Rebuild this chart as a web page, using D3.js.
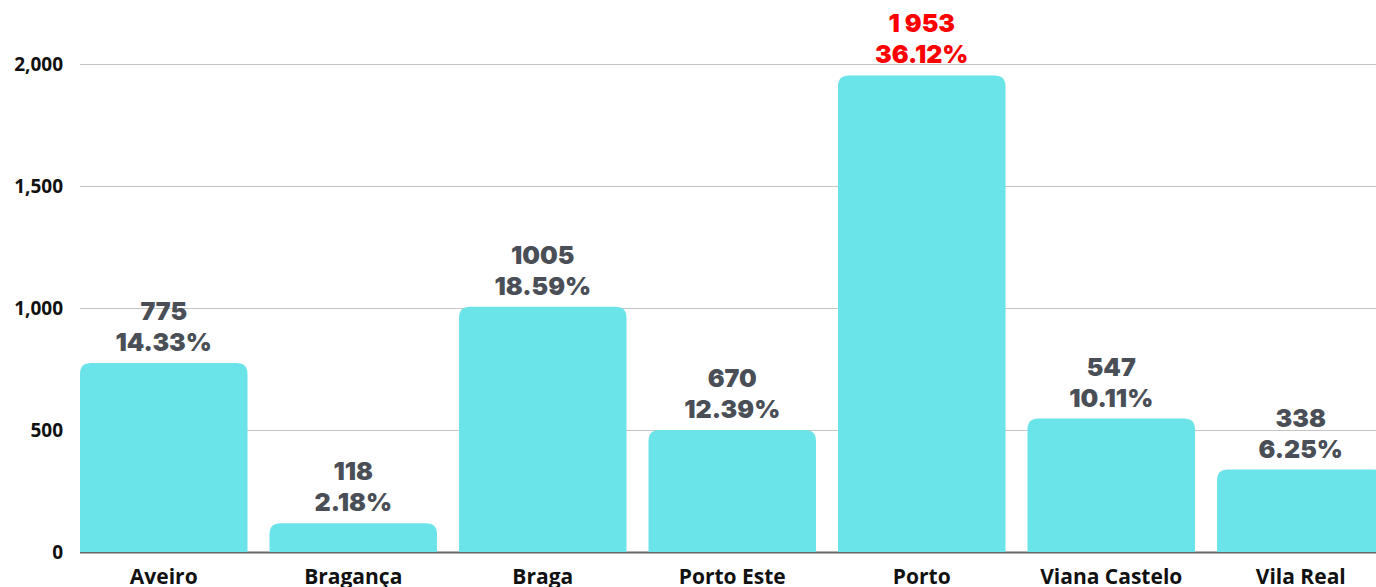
<!DOCTYPE html>
<html>
<head>
<meta charset="utf-8">
<script src="https://cdn.jsdelivr.net/npm/d3@7"></script>
<style>
  body { margin: 0; background: #fff; }
  .grid .domain { display: none; }
  .ytick text { font-family: "Open Sans", sans-serif; font-weight: 700; font-size: 19px; fill: #111; }
  .xlab { font-family: "Open Sans", sans-serif; font-weight: 700; font-size: 21px; fill: #111; }
  .val { font-family: Inter, sans-serif; font-weight: 900; font-size: 25px; fill: #4a4f57; }
</style>
</head>
<body>
<svg id="chart"></svg>
<script>
// Distritos - bar chart

var categories = ["Aveiro", "Bragança", "Braga", "Porto Este", "Porto", "Viana Castelo", "Vila Real"];
var barValues = [775, 118, 1005, 500, 1953, 547, 338];   // heights as drawn
var countLabels = ["775", "118", "1005", "670", "1 953", "547", "338"];
var pctLabels = ["14.33%", "2.18%", "18.59%", "12.39%", "36.12%", "10.11%", "6.25%"];
var yTicks = [0, 500, 1000, 1500, 2000];
var highlight = "Porto";

var width = 1376, height = 587
  , left = 80, zeroY = 552, topY = 64
  , step = 189.5, gap = 22
  , radius = 11
  ;

var svg = d3.select("#chart").attr("width", width).attr("height", height);

var x = d3.scaleBand()
          .domain(categories)
          .range([left, left + categories.length * step - gap])
          .paddingInner(gap / step)
          .paddingOuter(0);

var y = d3.scaleLinear().domain([0, 2000]).range([zeroY, topY]);

// gridlines
var grid = svg.append("g")
              .attr("class", "grid")
              .attr("transform", "translate(" + left + ",0)")
              .call(d3.axisRight(y).tickValues(yTicks).tickSize(width - left).tickFormat(""));
grid.selectAll("line")
    .style("stroke", function (d) { return d === 0 ? "#666" : "#c4c4c4"; })
    .style("stroke-width", function (d) { return d === 0 ? 2 : 1; });

// y tick labels
svg.append("g").attr("class", "ytick")
   .selectAll("text").data(yTicks).enter().append("text")
   .attr("x", 63)
   .attr("y", function (d) { return y(d); })
   .attr("dy", "0.35em")
   .attr("text-anchor", "end")
   .text(d3.format(","));

// bars with rounded top corners
function barPath(x0, w, yTop, yBot, r) {
  r = Math.min(r, (yBot - yTop), w / 2);
  return "M" + x0 + "," + yBot +
         "V" + (yTop + r) +
         "Q" + x0 + "," + yTop + " " + (x0 + r) + "," + yTop +
         "H" + (x0 + w - r) +
         "Q" + (x0 + w) + "," + yTop + " " + (x0 + w) + "," + (yTop + r) +
         "V" + yBot + "Z";
}

svg.append("g").selectAll("path").data(categories).enter().append("path")
   .attr("fill", "#6ae4e8")
   .attr("d", function (c, i) {
     return barPath(x(c), x.bandwidth(), y(barValues[i]), zeroY, radius);
   });

// value labels
var labels = svg.append("g");
categories.forEach(function (c, i) {
  var cx = x(c) + x.bandwidth() / 2, yt = y(barValues[i]);
  var col = c === highlight ? "#ff0000" : "#4a4f57";
  labels.append("text").attr("class", "val")
        .attr("x", cx).attr("y", yt - 43)
        .attr("text-anchor", "middle").style("fill", col)
        .text(countLabels[i]);
  labels.append("text").attr("class", "val")
        .attr("x", cx).attr("y", yt - 12)
        .attr("text-anchor", "middle").style("fill", col)
        .text(pctLabels[i]);
});

// category labels
svg.append("g").selectAll("text").data(categories).enter().append("text")
   .attr("class", "xlab")
   .attr("x", function (c) { return x(c) + x.bandwidth() / 2; })
   .attr("y", 584)
   .attr("text-anchor", "middle")
   .text(function (c) { return c; });
</script>
</body>
</html>
